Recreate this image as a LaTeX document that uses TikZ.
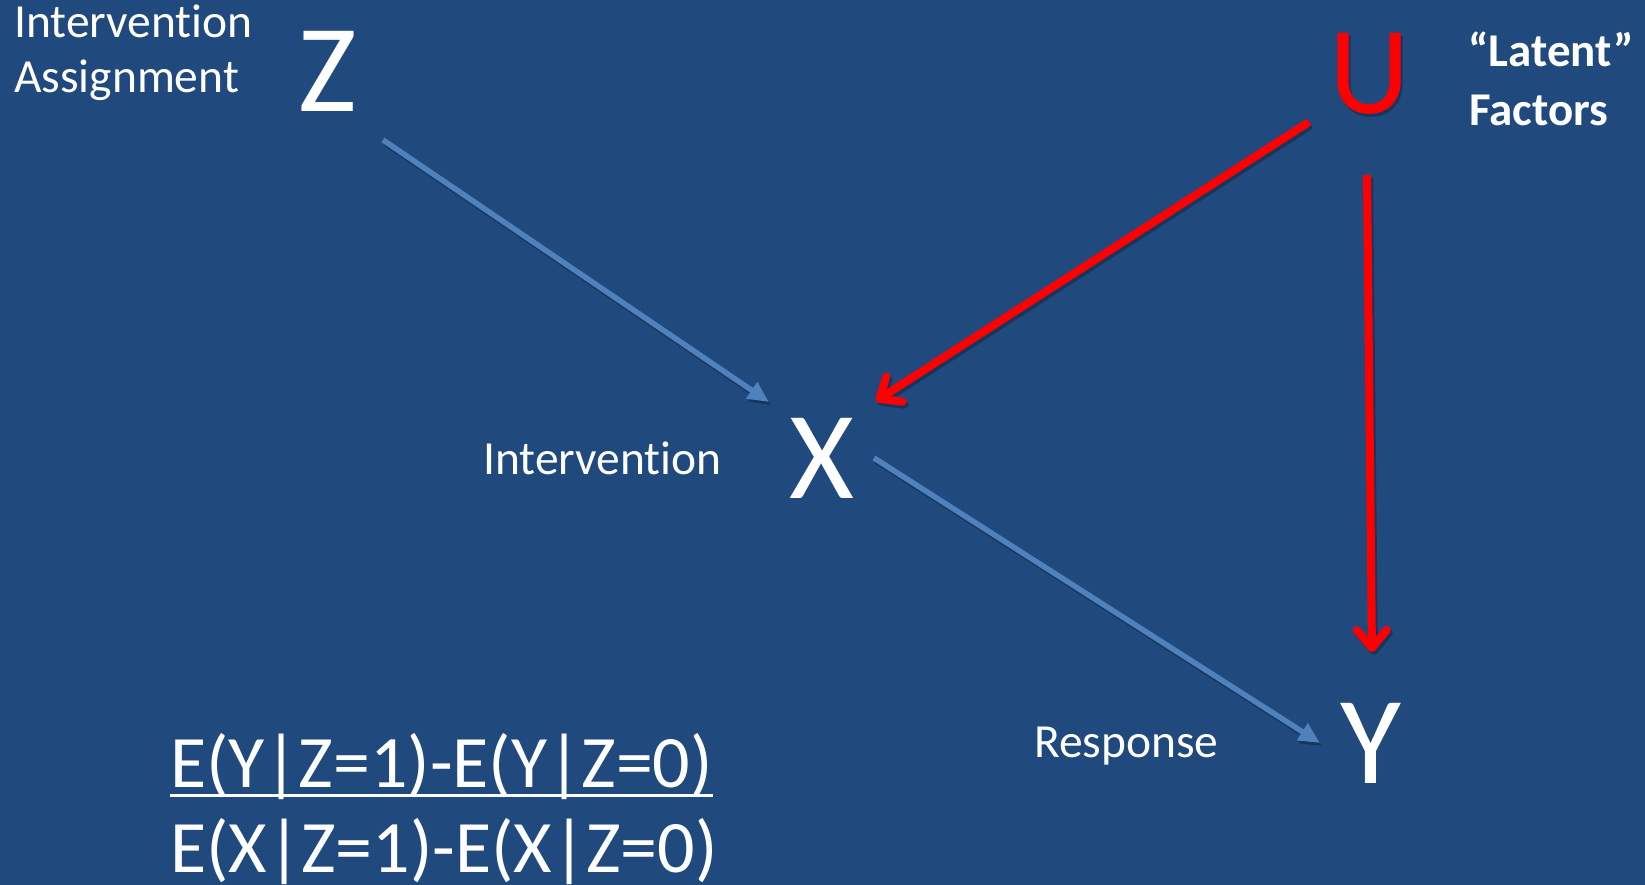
\documentclass[tikz,border=0pt]{standalone}
\usepackage{fontspec}
\setmainfont{Carlito}[Ligatures=NoCommon]
\usetikzlibrary{arrows.meta}
\definecolor{bg}{RGB}{32,73,125}
\definecolor{blueline}{RGB}{79,129,189}
\definecolor{redline}{RGB}{255,0,0}
\tikzset{
  big/.style={font=\fontsize{125}{125}\selectfont, inner sep=0pt, anchor=base},
  lab/.style={text=white, font=\fontsize{47.5}{47.5}\selectfont, inner sep=0pt, anchor=base west},
  boldlab/.style={text=white, font=\fontsize{47}{47}\selectfont\bfseries, inner sep=0pt, anchor=base west},
  formula/.style={text=white, font=\fontsize{74}{74}\selectfont, inner sep=0pt, anchor=base west},
  bluearrow/.style={draw=blueline, line width=5.5pt, -{Triangle[length=21pt,width=19pt]}},
  redarrow/.style={draw=redline, line width=8pt, line cap=butt, -{Straight Barb[length=18pt,width=30pt,line cap=round,line join=round]}},
  shadowline/.style={draw=black, opacity=0.25, transform canvas={shift={(2pt,-3pt)}}},
}
\begin{document}
\begin{tikzpicture}[x=1pt,y=-1pt]
\fill[bg] (0,0) rectangle (1645,885);
\useasboundingbox (0,0) rectangle (1645,885);

% labels
\node[lab] (lia) at (14,38) {Intervention};
\node[lab] (lib) at (14,93) {Assignment};
\node[boldlab] (lla) at (1468,67) {“Latent”};
\node[boldlab] (llb) at (1469,126) {Factors};
\node[lab] (lx) at (483,474) {Intervention};
\node[lab] (ly) at (1034,757) {Response};

% variables
\node[big, text=white] (z) at (328,112) {Z};
\node[big, text=black, opacity=0.25] (ushadow) at (1372,117) {U};
\node[big, text=redline] (u) at (1370,114) {U};
\node[big, text=white] (x) at (822,498) {X};
\node[big, text=white] (y) at (1371,783) {Y};

% connector end points
\coordinate (zs) at (383,140);
\coordinate (xe1) at (769,402);
\coordinate (us1) at (1309,122);
\coordinate (xe2) at (876,401);
\coordinate (us2) at (1367,175);
\coordinate (ye2) at (1372,652);
\coordinate (xs) at (874,458);
\coordinate (ye1) at (1320,743);

% shadows
\draw[bluearrow, shadowline] (zs) -- (xe1);
\draw[bluearrow, shadowline] (xs) -- (ye1);
\draw[redarrow, shadowline] (us1) -- (xe2);
\draw[redarrow, shadowline] (us2) -- (ye2);

% connectors
\draw[bluearrow] (zs) -- (xe1);
\draw[bluearrow] (xs) -- (ye1);
\draw[redarrow] (us1) -- (xe2);
\draw[redarrow] (us2) -- (ye2);

% formula
\node[formula] (f1) at (170,787) {E(Y|Z=1)-E(Y|Z=0)};
\node[formula] (f2) at (170,872) {E(X|Z=1)-E(X|Z=0)};
\draw[white, line width=3pt] ([yshift=-8pt]f1.base west) -- ([yshift=-8pt]f1.base east);
\end{tikzpicture}
\end{document}
